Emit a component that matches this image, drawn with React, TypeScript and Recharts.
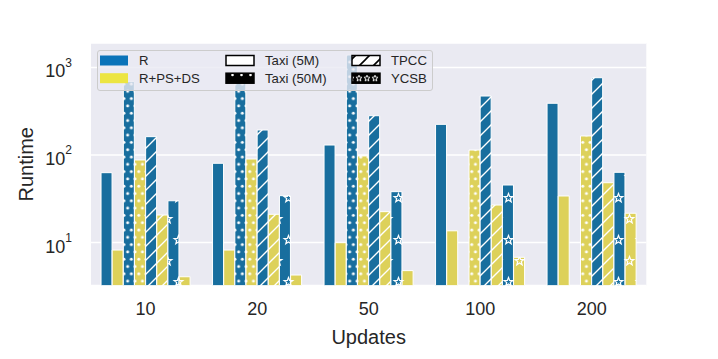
import React from 'react';
import { BarChart, Bar, XAxis, YAxis, CartesianGrid, Cell, Label } from 'recharts';

const updates = ['10', '20', '50', '100', '200'];

// runtimes, R vs R+PS+DS, per dataset
const taxi5mR = [62.8, 80.4, 130, 224, 390];
const taxi5mRpd = [8.2, 8.2, 9.95, 13.6, 34];
const taxi50mR = [690, 690, 1390, null, null];
const taxi50mRpd = [87.7, 90, 97.5, 114, 165];
const tpccR = [162, 193, 281, 472, 764];
const tpccRpd = [20.6, 21, 22.5, 26.8, 48.2];
const ycsbR = [30, 34.3, 38.1, 45.4, 63.4];
const ycsbRpd = [4.06, 4.25, 4.77, 6.78, 21.6];

const yTicks = [10, 100, 1000];

const BLUE = '#186e9e';
const YELLOW = '#ddd15a';
const TEXT = '#262626';
const FONT = 'Arial, "Liberation Sans", Helvetica, sans-serif';

const datasets = [
  { hatch: 'plain', r: taxi5mR, rpd: taxi5mRpd },
  { hatch: 'dots', r: taxi50mR, rpd: taxi50mRpd },
  { hatch: 'slash', r: tpccR, rpd: tpccRpd },
  { hatch: 'star', r: ycsbR, rpd: ycsbRpd },
];

type Row = { x: number; value: number; fill: string };
const rows: Row[] = [];
updates.forEach((_, i) => {
  datasets.forEach((d, k) => {
    [d.r, d.rpd].forEach((vals, v) => {
      const val = vals[i];
      if (val == null) return;
      const slot = k * 2 + v;
      const color = v === 0 ? 'b' : 'y';
      rows.push({
        x: i + (slot - 3.5) * 0.1,
        value: val,
        fill: d.hatch === 'plain' ? (v === 0 ? BLUE : YELLOW) : `url(#${d.hatch}-${color})`,
      });
    });
  });
});

const starPath = (cx: number, cy: number, R: number, r: number) => {
  let d = '';
  for (let i = 0; i < 10; i++) {
    const a = -Math.PI / 2 + (i * Math.PI) / 5;
    const rad = i % 2 === 0 ? R : r;
    d += (i ? 'L' : 'M') + (cx + rad * Math.cos(a)).toFixed(2) + ',' + (cy + rad * Math.sin(a)).toFixed(2);
  }
  return d + 'Z';
};

const hatchDefs = (bg: string, fg: string, suffix: string) => [
  <pattern key={'dots' + suffix} id={'dots-' + suffix} patternUnits="userSpaceOnUse" width={7.4} height={14.6}>
    <rect width={7.4} height={14.6} fill={bg} />
    <circle cx={1.85} cy={3.65} r={1.5} fill={fg} />
    <circle cx={5.55} cy={10.95} r={1.5} fill={fg} />
  </pattern>,
  <pattern key={'slash' + suffix} id={'slash-' + suffix} patternUnits="userSpaceOnUse" width={14} height={14}>
    <rect width={14} height={14} fill={bg} />
    <path d="M0,14 L14,0 M-2,2 L2,-2 M12,16 L16,12" stroke={fg} strokeWidth={1.4} />
  </pattern>,
  <pattern key={'star' + suffix} id={'star-' + suffix} patternUnits="userSpaceOnUse" width={22} height={42}>
    <rect width={22} height={42} fill={bg} />
    <path d={starPath(2.5, 30, 4.6, 1.9)} fill="none" stroke={fg} strokeWidth={1.2} />
    <path d={starPath(24.5, 30, 4.6, 1.9)} fill="none" stroke={fg} strokeWidth={1.2} />
    <path d={starPath(13.5, 9, 4.6, 1.9)} fill="none" stroke={fg} strokeWidth={1.2} />
    <path d={starPath(13.5, 51, 4.6, 1.9)} fill="none" stroke={fg} strokeWidth={1.2} />
    <path d={starPath(13.5, -33, 4.6, 1.9)} fill="none" stroke={fg} strokeWidth={1.2} />
  </pattern>,
];

const LogTick = (props: any) => {
  const { x, y, payload } = props;
  const exp = Math.round(Math.log10(payload.value));
  return (
    <text x={x} y={y + 10} textAnchor="end" fill={TEXT} fontSize={18} fontFamily={FONT}>
      <tspan>10</tspan>
      <tspan dy={-10.8} fontSize={12}>{exp}</tspan>
    </text>
  );
};

const LegendBox = () => {
  const items = [
    { x: 3, y: 5.5, label: 'R', kind: 'blue' },
    { x: 3, y: 23.2, label: 'R+PS+DS', kind: 'yellow' },
    { x: 129, y: 5.5, label: 'Taxi (5M)', kind: 'plain' },
    { x: 129, y: 23.2, label: 'Taxi (50M)', kind: 'dots' },
    { x: 255, y: 5.5, label: 'TPCC', kind: 'slash' },
    { x: 255, y: 23.2, label: 'YCSB', kind: 'star' },
  ];
  const fillFor = (kind: string) => {
    if (kind === 'blue') return '#0a73b9';
    if (kind === 'yellow') return '#ece542';
    if (kind === 'plain') return '#fff';
    return `url(#lg-${kind})`;
  };
  return (
    <div
      style={{
        position: 'absolute', left: 97, top: 49.5, width: 336, height: 41,
        background: 'rgba(234,234,242,0.8)', border: '1px solid #cccccc',
        borderRadius: 3, boxSizing: 'border-box',
      }}
    >
      <svg width={336} height={41} style={{ position: 'absolute', left: -1, top: -1 }}>
        <defs>
          <pattern id="lg-dots" patternUnits="userSpaceOnUse" width={9} height={10} x={131}>
            <rect width={9} height={10} fill="#000" />
            <circle cx={4.5} cy={5} r={1.3} fill="#fff" />
          </pattern>
          <pattern id="lg-slash" patternUnits="userSpaceOnUse" width={14} height={14} x={255} y={23}>
            <rect width={14} height={14} fill="#fff" />
            <path d="M0,14 L14,0 M-2,2 L2,-2 M12,16 L16,12" stroke="#000" strokeWidth={1.6} />
          </pattern>
          <pattern id="lg-star" patternUnits="userSpaceOnUse" width={8} height={10} x={258} y={23.2}>
            <rect width={8} height={10} fill="#000" />
            <path d={starPath(4, 5.2, 3.2, 1.4)} fill="none" stroke="#fff" strokeWidth={0.9} />
          </pattern>
        </defs>
        {items.map((it) => (
          <g key={it.label}>
            <rect
              x={it.x} y={it.y} width={28} height={10} fill={fillFor(it.kind)}
              stroke={it.kind === 'blue' || it.kind === 'yellow' ? 'none' : '#000'}
              strokeWidth={1.5}
            />
            <text x={it.x + 39} y={it.y + 9.7} fontSize={13.2} fill={TEXT} fontFamily={FONT}>{it.label}</text>
          </g>
        ))}
      </svg>
    </div>
  );
};

export default function App() {
  return (
    <div style={{ position: 'absolute', left: 0, top: 0, width: 718, height: 359, background: '#fff' }}>
      <BarChart
        width={718}
        height={359}
        data={rows}
        margin={{ top: 43, right: 71.7, left: 31, bottom: 33.5 }}
        barCategoryGap={0}
        barGap={0}
      >
        <defs>
          {hatchDefs(BLUE, '#fff', 'b')}
          {hatchDefs(YELLOW, '#fff', 'y')}
        </defs>
        <CartesianGrid vertical={false} stroke="#fff" strokeWidth={1.3} fill="#EAEAF2" />
        <XAxis
          dataKey="x"
          type="number"
          domain={[-0.49, 4.49]}
          allowDataOverflow
          ticks={[0, 1, 2, 3, 4]}
          interval={0}
          tickFormatter={(v: number) => updates[Math.round(v)]}
          axisLine={false}
          tickLine={false}
          tickSize={0}
          tickMargin={17}
          height={40}
          tick={{ fill: TEXT, fontSize: 18, fontFamily: FONT }}
        >
          <Label value="Updates" position="bottom" offset={4.5} style={{ fill: TEXT, fontSize: 20, fontFamily: FONT }} />
        </XAxis>
        <YAxis
          type="number"
          scale="log"
          domain={[3.226, 1905]}
          allowDataOverflow
          ticks={yTicks}
          interval={0}
          axisLine={false}
          tickLine={false}
          tickSize={0}
          tickMargin={19}
          width={60}
          tick={(p: any) => <LogTick {...p} />}
        >
          <Label
            value="Runtime"
            position="left"
            angle={-90}
            offset={5.5}
            style={{ fill: TEXT, fontSize: 20, fontFamily: FONT, textAnchor: 'middle' }}
          />
        </YAxis>
        <Bar dataKey="value" isAnimationActive={false} stroke="#fff" strokeWidth={1}>
          {rows.map((r, i) => (
            <Cell key={i} fill={r.fill} />
          ))}
        </Bar>
      </BarChart>
      <LegendBox />
    </div>
  );
}
